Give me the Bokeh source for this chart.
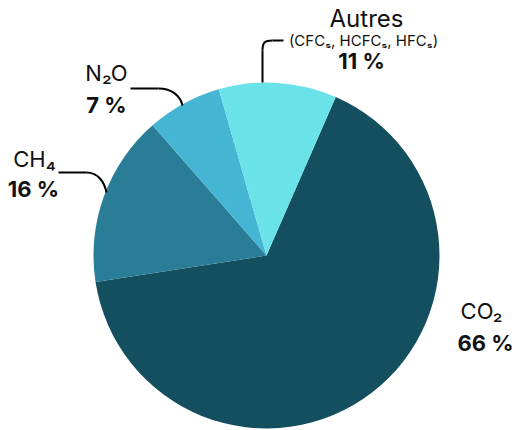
import math
from bokeh.plotting import figure
from bokeh.models import Range1d, ColumnDataSource
from bokeh.core.properties import value
from bokeh.embed import file_html
from bokeh.resources import INLINE

# Greenhouse gas shares (percent)
gases = ["CO₂", "CH₄", "N₂O", "Autres"]
shares = [66, 16, 7, 11]
colors = ["#134f5e", "#2a7d97", "#44b6d4", "#6ae3e8"]
autres_detail = "(CFCₛ, HCFCₛ, HFCₛ)"

W, H = 515, 430
FONT = "Inter"

p = figure(width=W, height=H, output_backend="svg", toolbar_location=None,
           x_range=Range1d(0, W), y_range=Range1d(0, H), min_border=0)
p.axis.visible = False
p.grid.visible = False
p.outline_line_color = None
p.background_fill_color = "white"
p.border_fill_color = "white"

def Y(py):
    return H - py

# pie geometry (screen-like coordinates, y down)
cx, cy, r = 266, 255, 173
offset = math.radians(23.6)   # first slice starts this far clockwise from 12 o'clock

total = sum(shares)
starts, ends = [], []
acc = offset
for s in shares:
    a0 = acc
    a1 = acc + 2 * math.pi * s / total
    starts.append(math.pi / 2 - a0)
    ends.append(math.pi / 2 - a1)
    acc = a1

src = ColumnDataSource(dict(start=starts, end=ends, color=colors, gas=gases))
p.wedge(x=cx, y=Y(cy), radius=r, start_angle="start", end_angle="end",
        direction="clock", fill_color="color", line_color=None, source=src)

# leader lines
def seg(x0, y0, x1, y1):
    p.line([x0, x1], [Y(y0), Y(y1)], line_color="black", line_width=2)

def curve(x0, y0, c0x, c0y, c1x, c1y, x1, y1):
    p.bezier(x0=x0, y0=Y(y0), x1=x1, y1=Y(y1), cx0=c0x, cy0=Y(c0y),
             cx1=c1x, cy1=Y(c1y), line_color="black", line_width=2)

# Autres
seg(262, 82, 262, 50)
curve(262, 50, 262, 42, 264, 40, 272, 40)
seg(272, 40, 283, 40)
# N2O
seg(130, 88, 158, 88)
curve(158, 88, 172, 88, 180, 96, 182, 105)
# CH4
seg(58, 172, 86, 172)
curve(86, 172, 98, 172, 104, 182, 106, 192)

def label(x, y, txt, size, bold=False, align="center"):
    p.text(x=[x], y=[Y(y)], text=[txt], text_font=value(FONT),
           text_font_size=f"{size}px", text_align=align, text_baseline="middle",
           text_font_style="bold" if bold else "normal", text_color="#111111")

pct = [f"{s} %" for s in shares]
name_size, pct_size = 22, 22

# CO2
label(481, 310, gases[0], name_size)
label(485, 342, pct[0], pct_size, bold=True)
# CH4
label(34, 158, gases[1], name_size)
label(33, 188, pct[1], pct_size, bold=True)
# N2O
label(106, 72, gases[2], name_size)
label(106, 104, pct[2], pct_size, bold=True)
# Autres
label(366, 18, gases[3], 24)
label(363, 40, autres_detail, 15)
label(361, 60, pct[3], pct_size, bold=True)

open("out.html", "w").write(file_html(p, INLINE))
